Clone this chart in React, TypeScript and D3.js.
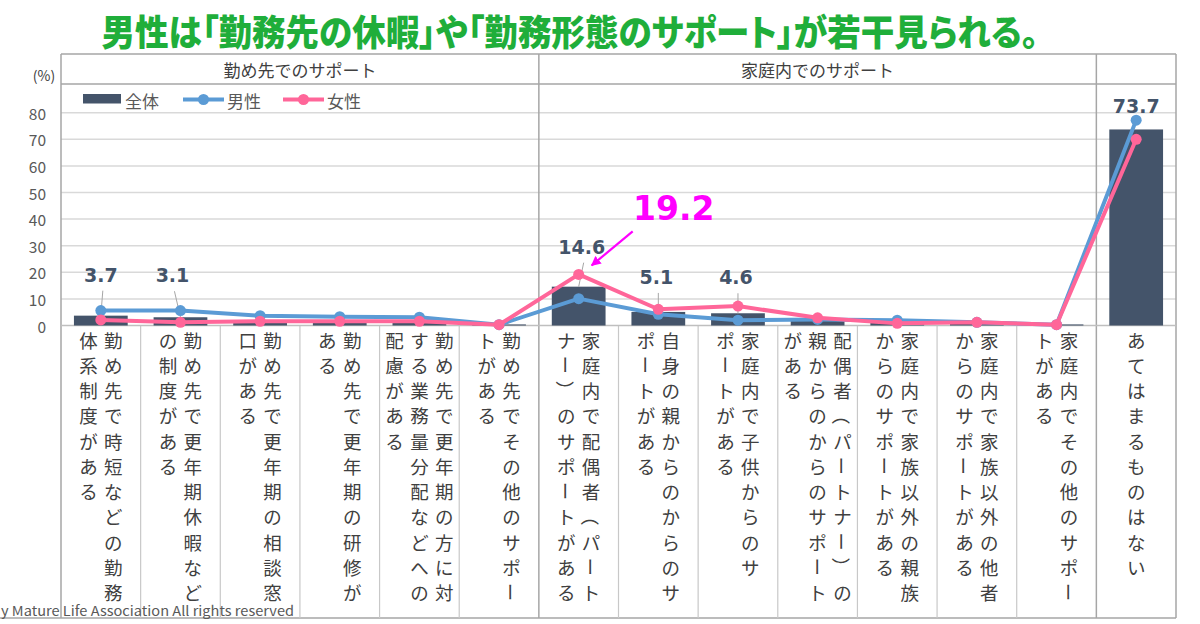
import React, { useEffect, useRef } from 'react';
import * as d3 from 'd3';

const title = "男性は「勤務先の休暇」や「勤務形態のサポート」が若干見られる。";
const sectionNames = ["勤め先でのサポート", "家庭内でのサポート", ""];
const sectionSizes = [6, 7, 1];

// vertical labels, one string per column (right to left)
const labelColumns = [
  ["勤め先で時短などの勤務", "体系制度がある"],
  ["勤め先で更年期休暇など", "の制度がある"],
  ["勤め先で更年期の相談窓", "口がある"],
  ["勤め先で更年期の研修が", "ある"],
  ["勤め先で更年期の方に対", "する業務量分配などへの", "配慮がある"],
  ["勤め先でその他のサポー", "トがある"],
  ["家庭内で配偶者（パート", "ナー）のサポートがある"],
  ["自身の親からのからのサ", "ポートがある"],
  ["家庭内で子供からのサ", "ポートがある"],
  ["配偶者（パートナー）の", "親からのからのサポート", "がある"],
  ["家庭内で家族以外の親族", "からのサポートがある"],
  ["家庭内で家族以外の他者", "からのサポートがある"],
  ["家庭内でその他のサポー", "トがある"],
  ["あてはまるものはない"],
];

const seriesNames = ["全体", "男性", "女性"];
const totalValues = [3.7, 3.1, 2.0, 1.4, 1.0, 0.4, 14.6, 5.1, 4.6, 2.6, 1.1, 0.8, 0.4, 73.7];
const maleValues = [5.6, 5.6, 3.7, 3.3, 3.1, 0.3, 10.1, 4.2, 2.0, 2.3, 2.0, 1.2, 0.3, 77.2];
const femaleValues = [2.1, 1.2, 1.6, 1.6, 1.6, 0.3, 19.2, 6.1, 7.3, 2.9, 0.8, 1.2, 0.3, 70.0];
const yTicks = [0, 10, 20, 30, 40, 50, 60, 70, 80];
const labeledBars = [0, 1, 6, 7, 8, 13];
const highlightIndex = 6;
const footer = "y Mature Life Association All rights reserved";

const W = 1200;
const H = 624;
const FONT = '"Noto Sans CJK JP", "Noto Sans", sans-serif';
const NUM_FONT = '"DejaVu Sans", sans-serif';

// manual nudges of the data labels, [dx, dy above bar top, leader?]
const labelNudge: Record<number, [number, number, boolean]> = {
  0: [0, 41, true],
  1: [-8, 42, true],
  6: [3, 40, true],
  7: [-2, 35, true],
  8: [-2, 36, true],
  13: [0, 23, false],
};

export default function App() {
  const ref = useRef<SVGSVGElement>(null);

  useEffect(() => {
    const svg = d3.select(ref.current);
    svg.selectAll('*').remove();

    const left = 61, right = 1176, top = 54, headerBottom = 84, bottom = 618;

    const x = d3.scaleBand<number>()
      .domain(d3.range(totalValues.length))
      .range([left, right])
      .padding(0);
    const y = d3.scaleLinear().domain([0, 80]).range([325.5, 112.7]);
    const cx = (i: number) => (x(i) as number) + x.bandwidth() / 2;
    const zeroY = y(0);

    // title
    svg.append('text')
      .attr('x', 570).attr('y', 30)
      .attr('text-anchor', 'middle')
      .attr('dominant-baseline', 'central')
      .attr('textLength', 937)
      .attr('lengthAdjust', 'spacingAndGlyphs')
      .style('font-family', FONT)
      .style('font-weight', 900)
      .style('font-size', '36px')
      .style('font-feature-settings', '"palt"')
      .attr('fill', '#1fae3a')
      .text(title);

    // gridlines
    svg.append('g').selectAll('line')
      .data(yTicks.filter((d) => d > 0))
      .join('line')
      .attr('x1', left).attr('x2', right)
      .attr('y1', (d) => y(d)).attr('y2', (d) => y(d))
      .attr('stroke', '#d9d9d9').attr('stroke-width', 1.5);

    // y tick labels
    svg.append('g').selectAll('text')
      .data(yTicks)
      .join('text')
      .attr('x', 46).attr('y', (d) => y(d))
      .attr('text-anchor', 'end')
      .attr('dominant-baseline', 'central')
      .style('font-family', FONT).style('font-size', '15.5px')
      .attr('fill', '#595959')
      .text((d) => d);

    svg.append('text')
      .attr('x', 44).attr('y', 75)
      .attr('text-anchor', 'middle').attr('dominant-baseline', 'central')
      .style('font-family', FONT).style('font-size', '14px')
      .attr('fill', '#404040')
      .text('(%)');

    // frame + header
    const frame = svg.append('g').attr('stroke', '#a6a6a6').attr('stroke-width', 1.5);
    frame.append('line').attr('x1', left).attr('x2', right).attr('y1', top).attr('y2', top);
    frame.append('line').attr('x1', left).attr('x2', right).attr('y1', headerBottom).attr('y2', headerBottom);
    frame.append('line').attr('x1', left).attr('x2', left).attr('y1', top).attr('y2', bottom);
    frame.append('line').attr('x1', right).attr('x2', right).attr('y1', top).attr('y2', bottom);
    frame.append('line').attr('x1', 0).attr('x2', right).attr('y1', bottom).attr('y2', bottom);

    const bounds = d3.cumsum(sectionSizes);
    let start = 0;
    sectionSizes.forEach((n, k) => {
      const x0 = x(start) as number;
      const x1 = k === sectionSizes.length - 1 ? right : (x(start + n) as number);
      if (k < sectionSizes.length - 1) {
        frame.append('line').attr('x1', x1).attr('x2', x1).attr('y1', top).attr('y2', bottom);
      }
      svg.append('text')
        .attr('x', (x0 + x1) / 2).attr('y', 69.5)
        .attr('text-anchor', 'middle').attr('dominant-baseline', 'central')
        .style('font-family', FONT).style('font-size', '17px')
        .attr('fill', '#404040')
        .text(sectionNames[k]);
      start += n;
    });

    // category separators in the label area
    svg.append('g').selectAll('line')
      .data(d3.range(1, totalValues.length).filter((i) => !bounds.includes(i)))
      .join('line')
      .attr('x1', (i) => x(i) as number).attr('x2', (i) => x(i) as number)
      .attr('y1', zeroY).attr('y2', bottom)
      .attr('stroke', '#c8c8c8').attr('stroke-width', 1.2);

    // zero line
    svg.append('line')
      .attr('x1', left).attr('x2', right).attr('y1', zeroY).attr('y2', zeroY)
      .attr('stroke', '#bfbfbf').attr('stroke-width', 1.5);

    // bars
    const barW = x.bandwidth() * 0.675;
    svg.append('g').selectAll('rect')
      .data(totalValues)
      .join('rect')
      .attr('x', (d, i) => cx(i) - barW / 2)
      .attr('y', (d) => y(d))
      .attr('width', barW)
      .attr('height', (d) => zeroY - y(d))
      .attr('fill', '#44546a');

    // leader lines + labels
    labeledBars.forEach((i) => {
      const [dx, dy, leader] = labelNudge[i];
      const lx = cx(i) + dx;
      const ly = y(totalValues[i]) - dy;
      if (leader) {
        svg.append('line')
          .attr('x1', lx + 2).attr('y1', ly + 16)
          .attr('x2', cx(i)).attr('y2', y(totalValues[i]))
          .attr('stroke', '#a6a6a6').attr('stroke-width', 1);
      }
      svg.append('text')
        .attr('x', lx).attr('y', ly)
        .attr('text-anchor', 'middle').attr('dominant-baseline', 'central')
        .style('font-family', NUM_FONT)
        .style('font-weight', 700).style('font-size', '19px')
        .attr('fill', '#44546a')
        .text(totalValues[i].toFixed(1));
    });

    // lines
    const line = d3.line<number>().x((d, i) => cx(i)).y((d) => y(d));
    [[maleValues, '#5b9bd5'], [femaleValues, '#ff6699']].forEach(([vals, color]) => {
      const g = svg.append('g');
      g.append('path')
        .datum(vals as number[])
        .attr('fill', 'none')
        .attr('stroke', color as string)
        .attr('stroke-width', 4)
        .attr('stroke-linejoin', 'round')
        .attr('d', line);
      g.selectAll('circle')
        .data(vals as number[])
        .join('circle')
        .attr('cx', (d, i) => cx(i)).attr('cy', (d) => y(d))
        .attr('r', 5.5)
        .attr('fill', color as string);
    });

    // highlight annotation
    const hx = cx(highlightIndex);
    const hy = y(femaleValues[highlightIndex]);
    svg.append('defs').append('marker')
      .attr('id', 'arrow')
      .attr('viewBox', '0 0 10 10')
      .attr('refX', 9).attr('refY', 5)
      .attr('markerWidth', 4.5).attr('markerHeight', 4.5)
      .attr('orient', 'auto')
      .append('path').attr('d', 'M0,0 L10,5 L0,10 z').attr('fill', '#ff00ff');
    svg.append('line')
      .attr('x1', hx + 54).attr('y1', hy - 43)
      .attr('x2', hx + 13).attr('y2', hy - 9)
      .attr('stroke', '#ff00ff').attr('stroke-width', 2.2)
      .attr('marker-end', 'url(#arrow)');
    svg.append('text')
      .attr('x', hx + 95).attr('y', hy - 66)
      .attr('text-anchor', 'middle').attr('dominant-baseline', 'central')
      .style('font-family', NUM_FONT)
      .style('font-weight', 700).style('font-size', '33px')
      .attr('fill', '#ff00ff')
      .text(femaleValues[highlightIndex].toFixed(1));

    // legend
    const lg = svg.append('g').style('font-family', FONT).style('font-size', '17px');
    lg.append('rect').attr('x', 83).attr('y', 94).attr('width', 38).attr('height', 9.5).attr('fill', '#44546a');
    lg.append('text').attr('x', 125).attr('y', 100.5).attr('dominant-baseline', 'central').attr('fill', '#595959').text(seriesNames[0]);
    [[183, '#5b9bd5', seriesNames[1]], [283, '#ff6699', seriesNames[2]]].forEach(([lx, color, name]) => {
      const x0 = lx as number;
      lg.append('line').attr('x1', x0).attr('x2', x0 + 41).attr('y1', 99.5).attr('y2', 99.5)
        .attr('stroke', color as string).attr('stroke-width', 4);
      lg.append('circle').attr('cx', x0 + 20.5).attr('cy', 99.5).attr('r', 5.5).attr('fill', color as string);
      lg.append('text').attr('x', x0 + 44).attr('y', 100.5).attr('dominant-baseline', 'central')
        .attr('fill', '#595959').text(name as string);
    });

    // vertical category labels
    const colStep = 24.8;
    const rowStep = 25.25;
    const row0 = 339.5;
    const rotated = ['ー', '（', '）'];
    const lab = svg.append('g').style('font-family', FONT).style('font-size', '18.5px').attr('fill', '#404040');
    labelColumns.forEach((cols, i) => {
      cols.forEach((col, j) => {
        const colX = cx(i) + ((cols.length - 1) / 2) * colStep - j * colStep;
        Array.from(col).forEach((ch, r) => {
          const cy = row0 + r * rowStep;
          const t = lab.append('text')
            .attr('x', colX).attr('y', cy)
            .attr('text-anchor', 'middle').attr('dominant-baseline', 'central')
            .text(ch);
          if (rotated.includes(ch)) t.attr('transform', `rotate(90, ${colX}, ${cy})`);
        });
      });
    });

    // footer (the slide crops its start)
    svg.append('text')
      .attr('x', 1).attr('y', 616)
      .attr('textLength', 293)
      .attr('lengthAdjust', 'spacingAndGlyphs')
      .style('font-family', FONT).style('font-size', '13.5px')
      .attr('fill', '#595959')
      .text(footer);
  }, []);

  return (
    <svg
      ref={ref}
      width={W}
      height={H}
      style={{ position: 'absolute', left: 0, top: 0, background: '#fff' }}
    />
  );
}
